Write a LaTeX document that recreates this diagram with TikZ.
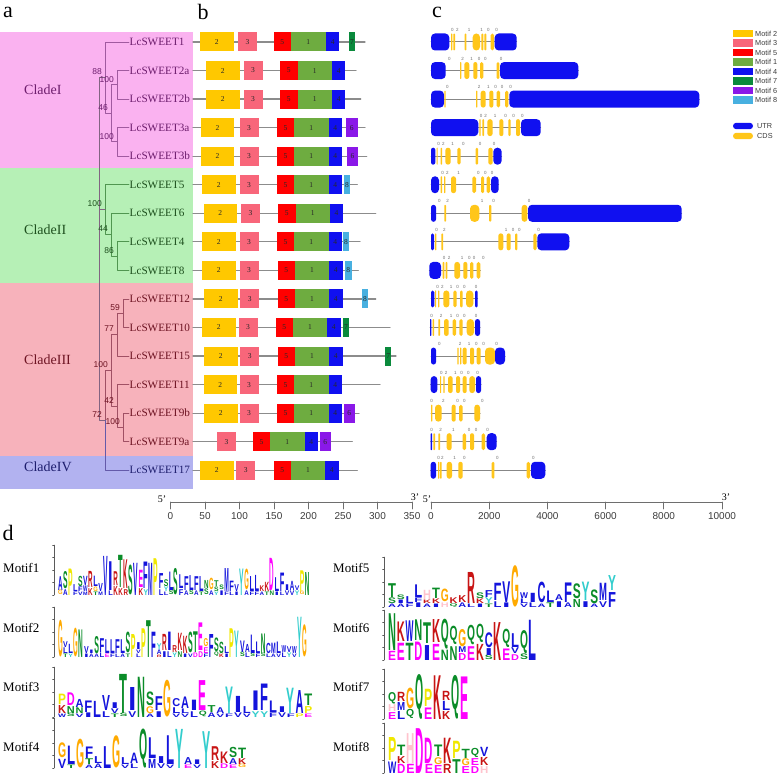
\documentclass[tikz,border=0pt]{standalone}
\usepackage{fontspec}
\setmainfont{Liberation Serif}
\setsansfont{Liberation Sans}
\newfontfamily\logofont{Liberation Sans}
\usepackage{graphicx}

% clade colours
\definecolor{bgI}{RGB}{250,178,240}
\definecolor{bgII}{RGB}{182,240,182}
\definecolor{bgIII}{RGB}{247,178,187}
\definecolor{bgIV}{RGB}{178,178,240}
\definecolor{lnI}{RGB}{160,90,160}
\definecolor{lnII}{RGB}{80,150,80}
\definecolor{lnIII}{RGB}{160,80,100}
\definecolor{lnIV}{RGB}{100,90,170}
\definecolor{lnroot}{RGB}{130,100,130}
\definecolor{txI}{RGB}{110,30,110}
\definecolor{txII}{RGB}{30,80,30}
\definecolor{txIII}{RGB}{110,20,35}
\definecolor{txIV}{RGB}{30,30,110}
% motif colours
\definecolor{mot1}{RGB}{110,172,64}
\definecolor{mot2}{RGB}{255,200,0}
\definecolor{mot3}{RGB}{248,102,122}
\definecolor{mot4}{RGB}{16,16,240}
\definecolor{mot5}{RGB}{255,0,0}
\definecolor{mot6}{RGB}{138,24,232}
\definecolor{mot7}{RGB}{10,138,60}
\definecolor{mot8}{RGB}{72,176,224}
\definecolor{Ucol}{RGB}{16,16,240}
\definecolor{Ccol}{RGB}{255,198,26}
% amino acid colours
\definecolor{hyd}{RGB}{20,20,220}
\definecolor{pol}{RGB}{10,140,40}
\definecolor{acd}{RGB}{255,0,255}
\definecolor{bas}{RGB}{200,20,20}
\colorlet{aaA}{hyd}\colorlet{aaC}{hyd}\colorlet{aaF}{hyd}\colorlet{aaI}{hyd}
\colorlet{aaL}{hyd}\colorlet{aaM}{hyd}\colorlet{aaV}{hyd}\colorlet{aaW}{hyd}
\colorlet{aaN}{pol}\colorlet{aaQ}{pol}\colorlet{aaS}{pol}\colorlet{aaT}{pol}
\colorlet{aaD}{acd}\colorlet{aaE}{acd}\colorlet{aaK}{bas}\colorlet{aaR}{bas}
\definecolor{aaH}{RGB}{255,195,205}
\definecolor{aaG}{RGB}{255,170,0}
\definecolor{aaP}{RGB}{240,232,0}
\definecolor{aaY}{RGB}{50,205,205}

\tikzset{
  tree/.style={line width=0.8pt},
  leaf/.style={anchor=west, inner sep=0.5pt, font=\fontsize{11.2}{12}\selectfont},
  boot/.style={anchor=south east, inner sep=0pt, xshift=-3pt, yshift=2.5pt,
    font=\sffamily\fontsize{8.5}{9}\selectfont},
  clade/.style={anchor=west, inner sep=0pt, font=\fontsize{14}{16}\selectfont},
  panel/.style={inner sep=0pt, font=\fontsize{22}{24}\selectfont},
  protein/.style={draw={rgb,255:red,140;green,140;blue,140}, line width=1.2pt},
  motifbox/.style={anchor=west, inner sep=0pt, minimum height=19pt,
    text={rgb,255:red,40;green,40;blue,40}, font=\fontsize{7.5}{8}\selectfont},
  intron/.style={draw={rgb,255:red,135;green,135;blue,135}, line width=1pt},
  phase/.style={inner sep=0pt, text={rgb,255:red,110;green,110;blue,110},
    font=\sffamily\fontsize{4.5}{5}\selectfont},
  legtext/.style={anchor=west, inner sep=0pt, text={rgb,255:red,60;green,60;blue,60},
    font=\sffamily\fontsize{7.3}{8}\selectfont},
  scaleline/.style={draw={rgb,255:red,110;green,110;blue,110}, line width=0.7pt},
  ticklab/.style={anchor=north, inner sep=0pt, yshift=-3pt, text={rgb,255:red,60;green,60;blue,60},
    font=\sffamily\fontsize{10}{11}\selectfont},
  endlab/.style={inner sep=0pt, font=\fontsize{10}{11}\selectfont},
  motiflab/.style={anchor=west, inner sep=0pt, font=\fontsize{13}{15}\selectfont},
  logoaxis/.style={draw={rgb,255:red,90;green,90;blue,90}, line width=0.3pt},
  letter/.style={anchor=south west, inner sep=0pt, outer sep=0pt}
}

\def\bitpx{12.5}
% one column of a sequence logo, letters listed bottom-up
\newcommand\logostack[5]{%
  \xdef\ybase{#2}%
  \foreach \ltr/\h [count=\j] in #4 {%
    \pgfmathsetmacro\hh{\h*\bitpx}%
    \pgfmathsetmacro\hl{0.92*\hh}%
    \node[letter] (#5-\j) at (#1,\ybase)
      {\resizebox*{#3pt}{\hl pt}{\logofont\bfseries\textcolor{aa\ltr}{\ltr}}};%
    \pgfmathsetmacro\ynew{\ybase-\hh}%
    \xdef\ybase{\ynew}}}
% a whole logo: name, left x, baseline y, column width, columns
\newcommand\seqlogo[5]{%
  \draw[logoaxis] (#2-4,#3) -- (#2-4,#3-4*\bitpx);
  \foreach \k in {0,...,4} \draw[logoaxis] (#2-4,#3-\k*\bitpx) -- ++(-1.5,0);
  \foreach \cl [count=\i] in {#5} {%
    \pgfmathsetmacro\cx{#2+(\i-1)*#4}%
    \pgfmathsetmacro\cw{0.9*#4}%
    \logostack{\cx}{#3}{\cw}{\cl}{#1c\i}}}

\begin{document}
\begin{tikzpicture}[x=1pt, y=-1pt, line join=round, line cap=round]
\fill[white] (0,0) rectangle (778,783);
\useasboundingbox (0,0) rectangle (778,783);

% panel letters
\node[panel] (pa) at (8,12) {a};
\node[panel] (pb) at (203,12) {b};
\node[panel] (pc) at (437,12) {c};
\node[panel] (pd) at (8,533) {d};

% a: clades
\fill[bgI] (0,32) rectangle (193,168);
\fill[bgII] (0,168) rectangle (193,283);
\fill[bgIII] (0,283) rectangle (193,456);
\fill[bgIV] (0,456) rectangle (193,489);
\node[clade, text=txI] (cI) at (24,90) {CladeI};
\node[clade, text=txII] (cII) at (24,230) {CladeII};
\node[clade, text=txIII] (cIII) at (24,360) {CladeIII};
\node[clade, text=txIV] (cIV) at (24,467) {CladeIV};

\foreach \n/\c [count=\i] in {1/I,2a/I,2b/I,3a/I,3b/I,5/II,6/II,4/II,8/II,
    12/III,10/III,15/III,11/III,9b/III,9a/III,17/IV}
  \node[leaf, text=tx\c] (L\n) at (129,{42+28.55*(\i-1)}) {LcSWEET\n};

\coordinate (n2) at (117,84.8);   \coordinate (n3) at (117,141.9);
\coordinate (n46) at (111,113.4); \coordinate (n88) at (105,77.7);
\coordinate (n86) at (117,256.1); \coordinate (n44) at (111,234.7);
\coordinate (n100b) at (105,209.7);
\coordinate (n59) at (123,313.2); \coordinate (n77) at (117,334.6);
\coordinate (n100d) at (123,427.4); \coordinate (n42) at (117,406);
\coordinate (n100c) at (111,370.3); \coordinate (n72) at (105,420.3);
\coordinate (root) at (99,250);

\draw[tree, lnI] (n2) |- (L2a.west) (n2) |- (L2b.west) (n3) |- (L3a.west) (n3) |- (L3b.west)
  (n46) |- (n2) (n46) |- (n3) (n88) |- (L1.west) (n88) |- (n46);
\draw[tree, lnII] (n86) |- (L4.west) (n86) |- (L8.west) (n44) |- (L6.west) (n44) |- (n86)
  (n100b) |- (L5.west) (n100b) |- (n44);
\draw[tree, lnIII] (n59) |- (L12.west) (n59) |- (L10.west) (n77) |- (n59) (n77) |- (L15.west)
  (n100d) |- (L9b.west) (n100d) |- (L9a.west) (n42) |- (L11.west) (n42) |- (n100d)
  (n100c) |- (n77) (n100c) |- (n42) (n72) |- (n100c);
\draw[tree, lnIV] (n72) |- (L17.west);
\draw[tree, lnroot] (root) |- (n88) (root) |- (n100b) (root) |- (n72);

\node[boot, text=txI] (b88) at (n88) {88};
\node[boot, text=txI] (b2) at (n2) {100};
\node[boot, text=txI] (b46) at (n46) {46};
\node[boot, text=txI] (b3) at (n3) {100};
\node[boot, text=txII] (b100b) at (n100b) {100};
\node[boot, text=txII] (b44) at (n44) {44};
\node[boot, text=txII] (b86) at (n86) {86};
\node[boot, text=txIII] (b59) at (n59) {59};
\node[boot, text=txIII] (b77) at (n77) {77};
\node[boot, text=txIII] (b100c) at (n100c) {100};
\node[boot, text=txIII] (b42) at (n42) {42};
\node[boot, text=txIII] (b100d) at (n100d) {100};
\node[boot, text=txIII] (b72) at (n72) {72};

% b: conserved motifs
\foreach \r/\xe/\ms in {
  1/365/{2/200,3/237.7,5/273.3,1/291,4/325.7,7/348.7},
  2/356/{2/206,3/243.3,5/280,1/297.3,4/331.7},
  3/360.7/{2/206,3/243.3,5/280,1/297.3,4/331.7},
  4/365/{2/200.7,3/239.3,5/276.7,1/294,4/328.3,6/346},
  5/366.7/{2/200.7,3/239.3,5/276.7,1/294,4/328.3,6/346.7},
  6/357.3/{2/202,3/239.3,5/276.7,1/294,4/328.3,8/343.3},
  7/375.7/{2/203.3,3/240.7,5/278,1/295.3,4/329.6},
  8/360/{2/202,3/239.3,5/276.7,1/294,4/328.3,8/342.3},
  9/358.3/{2/202,3/239.3,5/277.3,1/294.6,4/328.9,8/344.7},
  10/375.7/{2/204,3/240,5/277.3,1/294.6,4/328.9,8/361.3},
  11/390/{2/202,3/238.3,5/275.3,1/292.6,4/326.9,7/342.7},
  12/396/{2/204,3/240,5/277.3,1/294.6,4/328.9,7/385},
  13/380/{2/203.3,3/239.3,5/276.7,1/294,4/328.3},
  14/359/{2/204,3/239.3,5/276.7,1/294,4/328.3,6/343.3},
  15/352.3/{3/216.7,5/252.7,1/270,4/304.3,6/319.3},
  16/357.3/{2/200,3/236,5/273.3,1/290.6,4/324.9}} {
  \pgfmathsetmacro\y{42+28.55*(\r-1)}
  \draw[protein] (193,\y) -- (\xe,\y);
  \foreach \m/\s in \ms {
    \pgfmathsetmacro\w{{34.3,33.3,19.2,13.5,17.3,11.3,6,6.8}[\m-1]}
    \node[motifbox, fill=mot\m, minimum width=\w pt] (m\r-\m) at (\s,\y) {\m};
  }
}

% c: gene structures (segment type/start/end, intron phases)
\foreach \r/\xa/\xb/\segs/\ph in {
  1/431/516.7/{U/431/449.3,C/451/452.3,C/453.3/455,C/464.7/466.3,C/472.7/480,C/481.3/483.3,C/484.3/486.3,C/490.7/494,U/494.7/516.7}/{0/452.3,2/457.3,1/469,1/481.7,0/488.3,0/496.7},
  2/431/578.3/{U/431/445.7,C/460/461.3,C/464.3/469.3,C/473.3/477.3,C/480/483.3,C/496.7/499.3,U/500/578.3}/{0/449.3,2/462.7,1/471.7,0/479,0/485.3,0/501},
  3/431/699.3/{U/431/444,C/444.3/445.7,C/476/477.3,C/480.7/485.7,C/489.3/493.3,C/496.7/500,C/505/508.3,U/509.3/699.3}/{0/447.3,2/479,1/488.3,0/495.7,0/502,0/510.7},
  4/431/540.7/{U/431/478.3,C/479.3/480.7,C/482.3/484,C/487.3/492.7,C/499.3/503.3,C/508.3/510.7,C/516/520,U/521/540.7}/{0/481,2/485.7,1/495,0/505.7,0/513.7,0/522.3},
  5/431/501.7/{U/431/435.3,C/436.7/437.7,C/440.7/442,C/445.3/450.7,C/457.3/460.7,C/475.7/478,C/488.3/492.7,U/493.3/501.7}/{0/438.7,2/443.3,1/452.7,0/463.3,0/480,0/494},
  6/431/498.7/{U/431/439,C/440.7/442,C/444/445.3,C/451/456,C/472.3/476,C/481/484,C/486.7/490,U/491/498.7}/{0/442.7,2/447.3,1/458.7,0/478.3,0/485.3,0/492},
  7/431/681.7/{U/431/436,C/444.3/446,C/470/479.3,C/489/491.3,C/521.7/527.3,U/528/681.7}/{0/439.3,2/447.7,1/482,0/493.7,0/529},
  8/431/569.3/{U/431/434,C/435/436.3,C/441.3/443,C/498.3/503.3,C/506.7/510.7,C/515/517.3,C/533.3/536.7,U/537.3/569.3}/{0/436.7,2/444.3,1/506,0/513,0/519.3,0/538.7},
  9/429.3/480.3/{U/429.3/441,C/442.7/444.3,C/445.7/447.3,C/454.3/460,C/463.3/467.3,C/470/473.3,C/476.7/480.3}/{0/444,2/449,1/462,0/469.3,0/474,0/483.3},
  10/431/477.7/{U/431/434.3,C/435/436,C/438/439.3,C/443.3/449.3,C/453.3/456.7,C/460/462.7,C/466/473.3,U/475/477.7}/{0/437.7,2/442.3,1/451,0/457.7,0/464.3,0/476},
  11/430/480/{U/430/431.3,C/432.7/434,C/438.3/440,C/444/448.7,C/452.7/456,C/459.3/462.7,C/466.7/474,U/475/480}/{0/431.7,2/441,1/451,0/457.7,0/464.3,0/476},
  12/431/505/{U/431/436,C/457.3/458.7,C/460/461.3,C/462.7/466.7,C/470/474,C/476.7/480.7,C/485/495,U/495/505}/{0/439.3,2/460,1/469,0/476.3,0/483.7,0/496.7},
  13/430.7/481/{U/430.7/437.3,C/440/441,C/443.3/444.7,C/448/452.7,C/456/460,C/462.7/466.7,C/469.3/475,U/476/481}/{0/441.3,2/446,1/455.3,0/461.7,0/468.3,0/477.7},
  14/431/480/{C/431/432.3,C/435/441.7,C/451.7/455.7,C/459/462.7,C/474.3/480}/{0/431.7,2/443.3,0/457.7,0/464.3,0/482.3},
  15/430.7/496.7/{U/430.7/432,C/433.3/435,C/438.3/440,C/446.7/451.7,C/462.7/466,C/470/474,C/481.7/485,U/486.7/496.7}/{0/431.7,2/440.7,1/453.3,0/469,0/476,0/487.7},
  16/430.7/545.3/{U/430.7/436,C/438/439.3,C/440/441.7,C/446.7/452,C/458.3/462.7,C/491.7/494.3,C/526.7/530,U/531/545.3}/{0/438.7,2/442.3,1/454.7,0/464.3,0/497.3,0/533.3}} {
  \pgfmathsetmacro\y{42+28.55*(\r-1)}
  \draw[intron] (\xa,\y) -- (\xb,\y);
  \foreach \st/\sa/\sb in \segs {
    \pgfmathsetmacro\rc{min(4,(\sb-\sa)/2)}
    \fill[\st col, rounded corners=\rc pt] (\sa,\y-8.5) rectangle (\sb,\y+8.5);
  }
  \foreach \p/\x [count=\k] in \ph
    \node[phase] (ph\r-\k) at (\x,\y-12) {\p};
}

% legend
\foreach \m [count=\k] in {2,3,5,1,4,7,6,8} {
  \pgfmathsetmacro\y{33.5+9.5*(\k-1)}
  \fill[mot\m] (732.7,\y-3.75) rectangle (753.3,\y+3.75);
  \node[legtext] (lg\m) at (755,\y) {Motif \m};
}
\fill[Ucol, rounded corners=3.2pt] (733,122.8) rectangle (753,129.2);
\node[legtext] (lgU) at (757,126) {UTR};
\fill[Ccol, rounded corners=3.2pt] (733,132.8) rectangle (753,139.2);
\node[legtext] (lgC) at (757,136) {CDS};

% scales
\draw[scaleline] (170.5,502) -- (412,502);
\foreach \v in {0,50,...,350}
  \draw[scaleline] (170.5+0.69*\v,502) -- ++(0,7) node[ticklab] (tb\v) {\v};
\node[endlab] (b5) at (162,499) {5'};
\node[endlab] (b3) at (415,497) {3'};
\draw[scaleline] (431,502) -- (722,502);
\foreach \v in {0,2000,...,10000}
  \draw[scaleline] (431+0.0291*\v,502) -- ++(0,7) node[ticklab] (tc\v) {\v};
\node[endlab] (c5) at (427,499) {5'};
\node[endlab] (c3) at (726,497) {3'};

% d: motif logos
\node[motiflab] (t1) at (3,568) {Motif1};
\node[motiflab] (t2) at (3,628) {Motif2};
\node[motiflab] (t3) at (3,687) {Motif3};
\node[motiflab] (t4) at (3,747) {Motif4};
\node[motiflab] (t5) at (333,568) {Motif5};
\node[motiflab] (t6) at (333,628) {Motif6};
\node[motiflab] (t7) at (333,687) {Motif7};
\node[motiflab] (t8) at (333,747) {Motif8};

\seqlogo{lgA}{58}{595}{5.04}{{G/0.4,A/1.2},{A/0.5,S/1.5},{P/2.3},{F/0.3,L/0.6},{V/0.3,F/0.4,S/0.9},{M/0.3,W/0.5,V/0.8},{K/0.6,R/1.4},{T/0.3,G/0.4,L/0.9},{M/0.3,V/0.7},{V/3.4},{L/0.4,I/2.5},{K/0.8,R/1.2},{K/0.6,T/2.8},{R/0.5,K/2.5},{S/2.6},{V/2.8},{K/0.6,E/1.5},{Y/0.5,F/2.3},{M/2.8},{P/3.2},{L/0.5,F/1.3},{L/0.3,Y/0.4,S/0.6},{S/0.4,L/1.6},{S/2.3},{F/0.5,L/1.2},{A/0.4,F/1.2},{S/0.4,L/1.3},{A/0.4,F/1.2},{T/0.3,L/1.3},{S/0.5,N/0.7},{A/0.4,G/1.0},{Y/0.3,S/0.4,T/0.5},{I/0.4,S/0.4},{F/0.3,M/2.0},{L/0.3,F/0.9},{I/0.3,V/0.6},{Y/2.3},{A/0.4,G/1.8},{F/0.3,L/1.3},{F/0.3,L/1.4},{A/0.3,K/0.5},{T/0.3,K/0.8},{N/0.4,D/2.8},{I/0.3,L/1.2},{L/0.3,F/1.6},{V/0.4,I/0.5},{V/0.4,A/0.8},{Y/0.4,V/0.4},{G/0.3,P/1.8},{N/2.0}}

\seqlogo{lgB}{58}{657}{5.2}{{G/3.2},{T/0.3,L/0.5,V/0.5},{Y/0.3,L/0.8},{G/2.5},{N/2.4},{I/0.3,V/0.6},{A/0.3,I/0.3},{A/0.3,S/1.5},{L/0.4,F/1.2},{E/0.3,L/1.2},{F/0.3,L/1.2},{L/0.3,F/1.2},{A/0.3,L/1.2},{T/0.3,S/1.8},{P/2.0},{L/0.3,V/0.3,I/0.6},{P/2.5},{T/3.2},{F/2.2},{R/0.2,A/0.4,Y/0.5},{I/0.5,R/1.4},{L/0.5,I/1.6},{Y/0.4,R/0.6},{N/0.5,K/1.5},{I/0.3,K/1.5},{V/0.3,S/1.8},{D/0.4,T/1.8},{D/0.5,E/2.4},{F/0.3,E/0.5,G/0.7},{F/2.0},{Q/0.4,S/1.2},{K/0.3,S/1.0},{I/0.3,L/0.6},{P/2.5},{Y/2.3},{S/0.4,V/1.0},{L/0.4,A/0.7},{S/0.3,L/1.6},{F/0.3,L/1.0},{S/0.3,N/1.7},{L/0.3,C/0.9},{A/0.3,M/0.9},{V/0.3,L/1.0},{L/0.4,W/0.6},{Y/0.4,V/0.5},{V/0.3,W/0.6},{Y/3.5},{G/2.8}}

\seqlogo{lgC}{58}{717}{8.8}{{W/0.3,K/0.7,P/0.9},{S/0.3,N/0.6,D/1.1},{V/0.3,N/0.5,A/0.7},{I/0.4,F/1.0},{L/1.4},{L/0.5,V/1.3},{T/0.3,V/0.4,I/0.5},{S/0.3,T/3.4},{V/0.5,I/2.0},{N/3.5},{A/0.3,G/0.6,S/1.2},{I/0.5,F/1.2},{G/3.2},{V/0.3,L/0.5,C/0.7},{V/0.3,L/0.4,A/1.0},{L/0.5,I/0.9},{Q/0.5,E/2.6},{A/0.4,T/0.6},{V/0.3,A/0.5},{F/0.3,Y/2.3},{V/0.4,I/1.4},{V/0.3,L/0.6},{Y/0.5,I/1.7},{Y/0.5,F/2.3},{F/0.4,L/1.0},{V/0.4,I/0.5},{F/0.3,Y/2.2},{P/0.3,A/2.0},{E/0.3,P/0.6,T/1.0}}

\seqlogo{lgD}{58}{768}{9}{{V/0.8,G/1.3},{T/0.3,L/1.6},{G/2.5},{A/0.3,T/0.5,F/1.0},{A/0.4,L/0.6},{L/1.9},{G/2.8},{V/0.3,L/0.6},{L/0.4,A/0.9},{Q/3.4},{M/0.8,L/1.8},{V/0.4,I/0.6},{V/0.3,L/2.5},{Y/3.4},{E/0.3,A/0.6},{V/0.3,I/0.4},{Y/3.2},{K/0.6,R/1.2},{D/0.4,K/1.0},{E/0.3,A/0.5,S/0.9},{G/0.3,K/0.5,T/0.9}}

\seqlogo{lgE}{388}{607}{8.8}{{A/0.3,S/0.5,T/1.2},{A/0.3,I/0.3,S/0.4},{F/0.3,L/0.6},{I/0.4,F/0.4,L/1.1},{A/0.3,K/0.3,H/0.8},{I/0.3,K/0.4,T/0.9},{H/0.4,G/1.1},{Q/0.3,K/0.5},{A/0.4,K/0.6},{L/0.3,R/2.7},{I/0.3,K/0.4,S/0.5},{T/0.3,Y/0.5,F/0.6},{L/0.5,F/1.5},{I/0.4,V/1.8},{G/3.6},{V/0.3,L/0.4,W/0.5},{L/0.4,I/0.8},{A/0.3,C/1.8},{T/0.4,L/1.0},{I/0.5,A/0.5},{A/0.4,F/1.7},{N/0.7,S/1.3},{I/0.5,Y/1.6},{A/0.3,S/1.2},{V/0.5,M/1.5},{F/1.3,Y/1.3}}

\seqlogo{lgF}{388}{660}{8.8}{{E/0.8,N/3.2},{E/1.5,K/1.7},{T/1.5,W/1.8},{D/1.6,N/1.8},{I/1.3,T/1.8},{E/1.4,K/2.0},{N/0.9,Q/2.6},{N/1.2,Q/1.6},{D/0.6,M/0.5,G/1.5},{E/1.2,Q/1.7},{K/1.4,Q/1.6},{S/0.4,I/0.6,C/1.3},{K/3.3},{E/1.0,Q/1.6},{D/0.5,V/0.5,L/1.2},{S/0.5,Q/2.0},{L/3.5}}

\seqlogo{lgG}{388}{719}{9}{{E/0.6,H/0.6,Q/1.0},{L/0.7,M/0.7,R/0.8},{Q/0.8,G/1.8},{Q/3.9},{E/1.0,P/1.5},{K/3.8},{K/0.7,L/0.8,R/0.8},{Q/3.8},{E/3.7}}

\seqlogo{lgH}{388}{773}{9.2}{{W/1.0,P/2.0},{D/0.8,K/0.6,T/0.9},{E/0.8,H/2.6},{D/3.9},{E/0.8,D/2.2},{E/0.7,G/0.6,T/1.0},{R/0.8,K/2.2},{T/1.2,P/1.5},{E/0.6,G/0.6,T/0.8},{D/0.6,E/0.6,Q/0.8},{H/0.6,K/0.7,V/0.8}}
\end{tikzpicture}
\end{document}
